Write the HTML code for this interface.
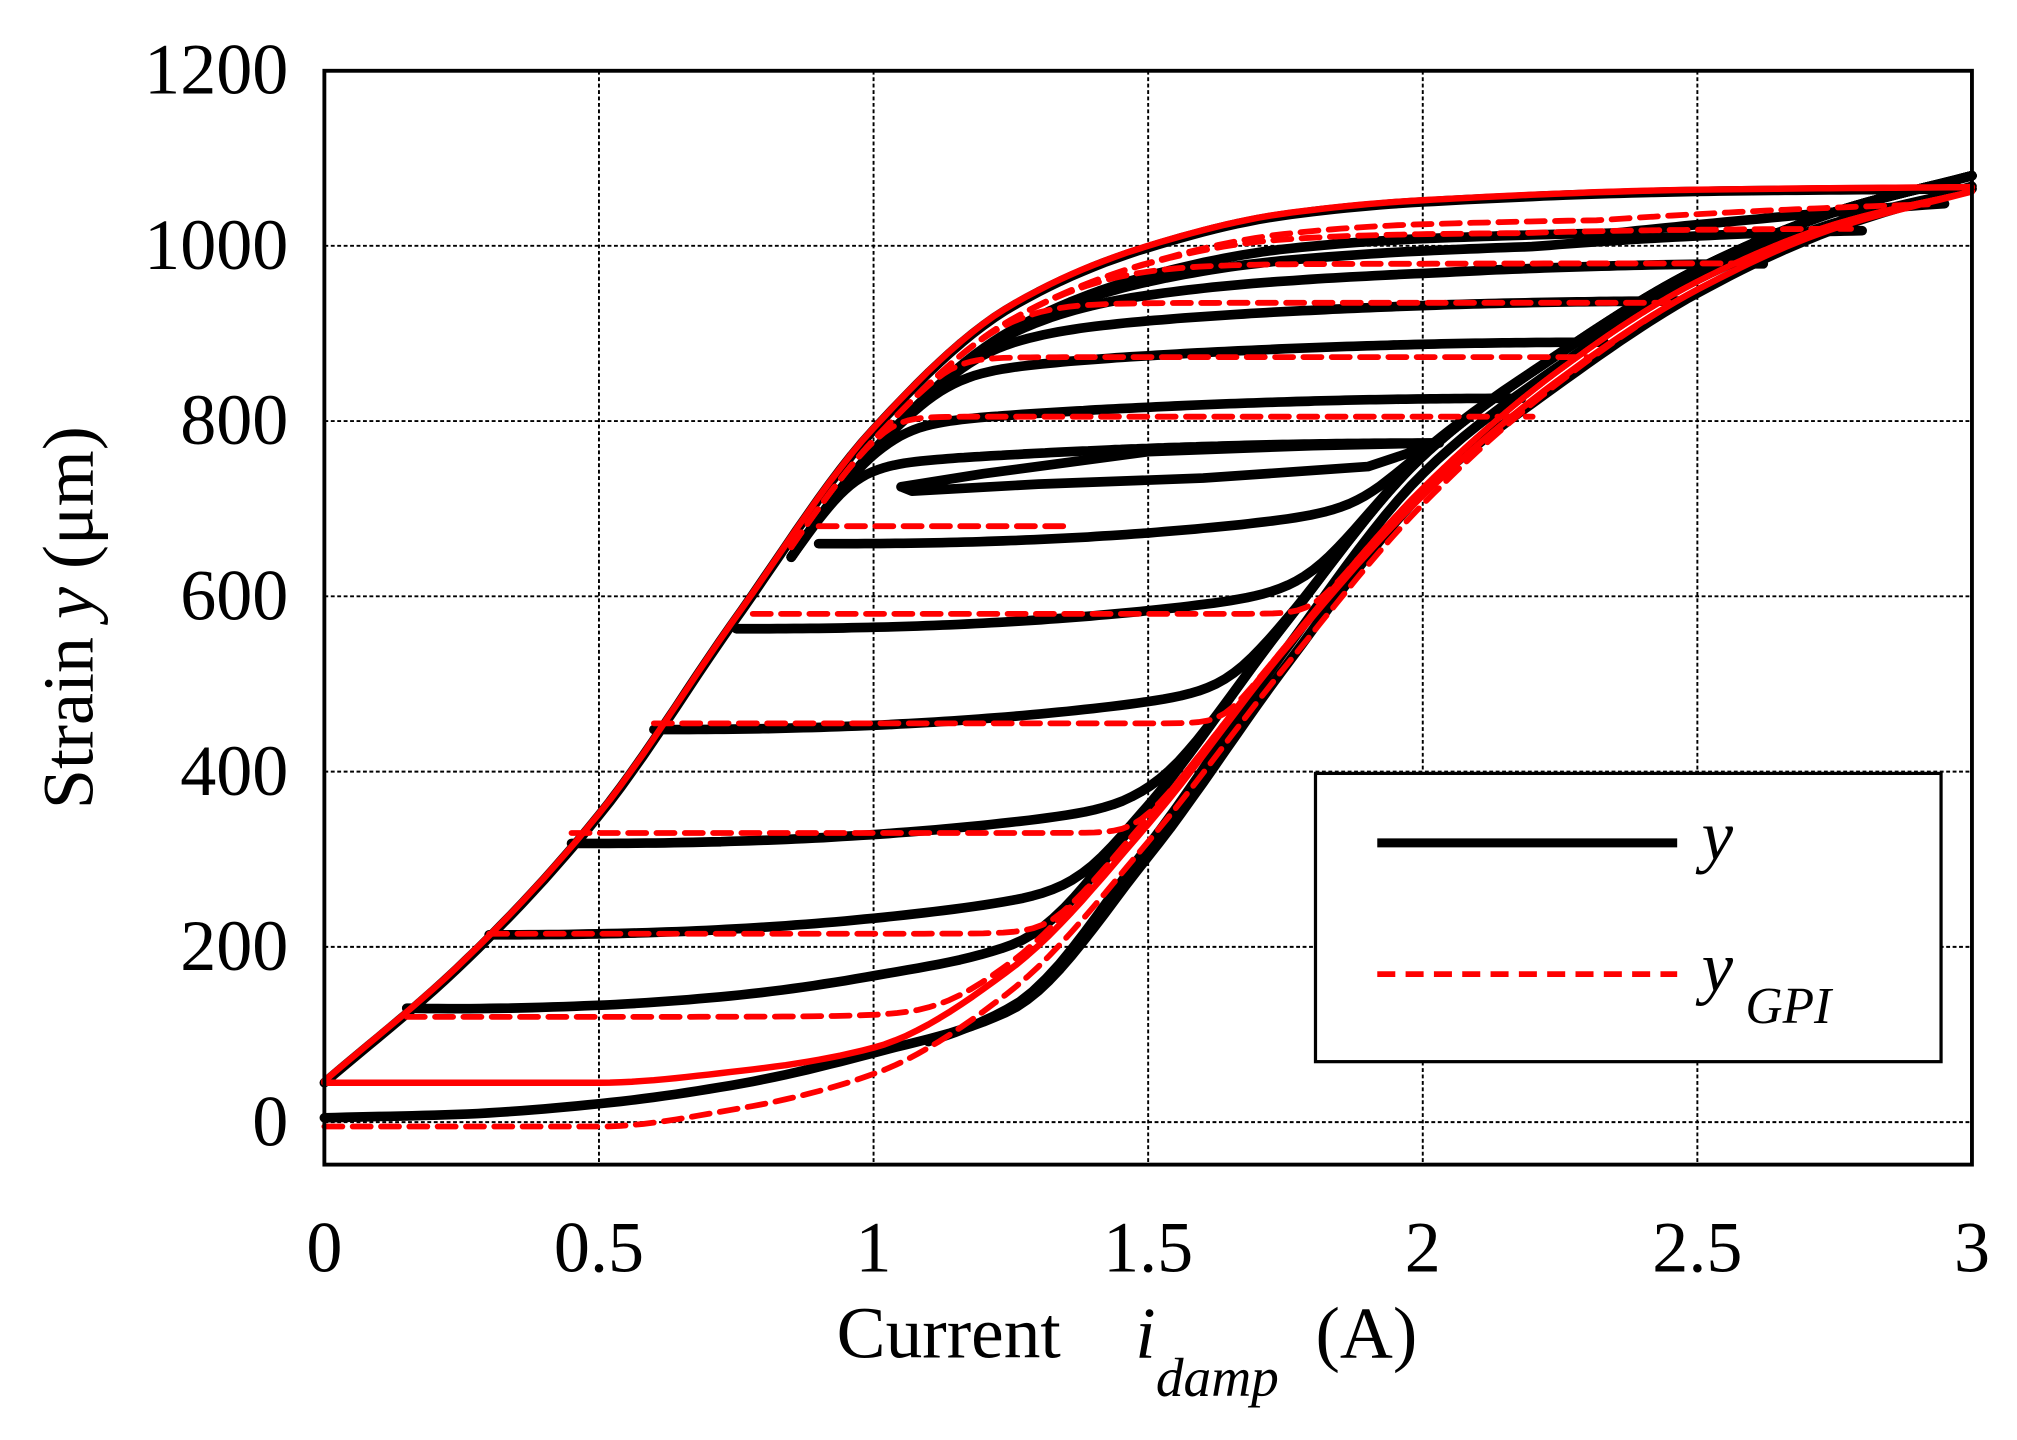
<!DOCTYPE html>
<html><head><meta charset="utf-8"><style>
html,body{margin:0;padding:0;background:#fff;}
svg{display:block;}
text{font-family:"Liberation Serif",serif;fill:#000;}
</style></head><body>
<svg id="s" width="2017" height="1440" viewBox="0 0 1567 1119" preserveAspectRatio="none" xmlns="http://www.w3.org/2000/svg">
<g id="grid" stroke="#000" stroke-width="1.5" stroke-dasharray="3,2"></g>
<g id="curves" fill="none" stroke-linejoin="round" stroke-linecap="round"></g>
<rect x="252" y="55" width="1280" height="850" fill="none" stroke="#000" stroke-width="3"/>
<g id="labels" font-size="56"></g>
<text x="650" y="1055" font-size="57">Current</text>
<text x="882" y="1055" font-size="57" font-style="italic">i</text>
<text x="898" y="1085" font-size="43" font-style="italic">damp</text>
<text x="1022" y="1055" font-size="57">(A)</text>
<text transform="translate(72,480) rotate(-90)" text-anchor="middle" font-size="56">Strain <tspan font-style="italic">y</tspan> (μm)</text>
<rect x="1022" y="601" width="486" height="224" fill="#fff" stroke="#000" stroke-width="2.5"/>
<line x1="1070" y1="655" x2="1303" y2="655" stroke="#000" stroke-width="7"/>
<line x1="1070" y1="757" x2="1303" y2="757" stroke="#f00" stroke-width="4.5" stroke-dasharray="14,8"/>
<text x="1322" y="668" font-size="55" font-style="italic">y</text>
<text x="1322" y="770" font-size="55" font-style="italic">y</text>
<text x="1356" y="795" font-size="40" font-style="italic">GPI</text>
</svg>
<script>
var NS="http://www.w3.org/2000/svg";
function X(i){return 252+i*426.67;}
function Y(v){return 872-v*0.681;}
function el(p,tag,a){var e=document.createElementNS(NS,tag);for(var k in a)e.setAttribute(k,a[k]);p.appendChild(e);return e;}
var g=document.getElementById('grid'),lb=document.getElementById('labels');
for(var i=0.5;i<3;i+=0.5)el(g,'line',{x1:X(i),y1:55,x2:X(i),y2:905});
for(var v=0;v<=1000;v+=200)el(g,'line',{x1:252,y1:Y(v),x2:1532,y2:Y(v)});
var xl=["0","0.5","1","1.5","2","2.5","3"];
for(var k=0;k<7;k++){var t=el(lb,'text',{x:X(k*0.5),y:988,'text-anchor':'middle'});t.textContent=xl[k];}
for(var v=0;v<=1200;v+=200){var t=el(lb,'text',{x:224,y:Y(v)+18,'text-anchor':'end'});t.textContent=v;}
function mk(pts){var n=pts.length,xs=pts.map(p=>p[0]),ys=pts.map(p=>p[1]),m=[];
 for(var i=0;i<n;i++){if(i==0)m[i]=(ys[1]-ys[0])/(xs[1]-xs[0]);else if(i==n-1)m[i]=(ys[n-1]-ys[n-2])/(xs[n-1]-xs[n-2]);else{var a=(ys[i]-ys[i-1])/(xs[i]-xs[i-1]),b=(ys[i+1]-ys[i])/(xs[i+1]-xs[i]);m[i]=(a*b<=0)?0:2/(1/a+1/b);}}
 return function(x){if(x<=xs[0])return ys[0];if(x>=xs[n-1])return ys[n-1];var j=1;while(x>xs[j])j++;var h=xs[j]-xs[j-1],t=(x-xs[j-1])/h,t2=t*t,t3=t2*t;
 return (2*t3-3*t2+1)*ys[j-1]+(t3-2*t2+t)*h*m[j-1]+(-2*t3+3*t2)*ys[j]+(t3-t2)*h*m[j];};}
var A=mk([[0,45],[0.25,180],[0.5,350],[0.75,575],[1,790],[1.25,930],[1.5,998],[1.75,1035],[2,1050],[2.5,1062],[3,1065]]);
var D=mk([[0,2],[0.25,6],[0.5,18],[0.75,40],[1,76],[1.25,125],[1.5,300],[1.75,517],[2,715],[2.25,840],[2.5,943],[2.75,1016],[3,1065]]);
var Rlow=mk([[0,-5],[0.5,-5],[0.75,15],[1,55],[1.25,150],[1.5,320],[1.75,520],[2,705],[2.25,845],[2.5,950],[2.75,1020],[3,1062]]);
var Rsol=mk([[0,45],[0.5,45],[0.75,58],[1,85],[1.25,175],[1.5,340],[1.75,540],[2,715],[2.25,848],[2.5,950],[2.75,1020],[3,1062]]);
function smax(a,b,k){var m=Math.max(a,b);return m+k*Math.log(Math.exp((a-m)/k)+Math.exp((b-m)/k));}
function smin(a,b,k){return -smax(-a,-b,k);}
var cv=document.getElementById('curves');
function path(pts,st){var d="";pts.forEach(function(p,i){d+=(i?"L":"M")+X(p[0]).toFixed(1)+" "+Y(p[1]).toFixed(1);});el(cv,'path',Object.assign({d:d},st));}
var BL={stroke:"#000","stroke-width":7.5},RD={stroke:"#f00","stroke-width":4.5,"stroke-dasharray":"14,8"},RS={stroke:"#f00","stroke-width":5};
function fn(f,a,b,n){var r=[];for(var k=0;k<=n;k++){var x=a+(b-a)*k/n;r.push([x,f(x)]);}return r;}
path(fn(A,0,3,150),BL);
path(fn(function(x){return D(x)+3;},0,3,150),BL);
path(fn(function(x){return D(x)+25*Math.sin(Math.PI*(x-1.1)/1.9);},1.1,3,80),BL);
[[0.15,113],[0.3,213],[0.45,318],[0.6,448],[0.75,563],[0.9,660]].forEach(function(o){
 path(fn(function(x){var off=90*(3-x)/3+15;var base=o[1]+40*Math.pow(x-o[0],2.3);return smax(base,D(x)+off,30);},o[0],3,150),BL);});
path([[1.05,725],[1.2,740],[1.5,765],[1.8,772],[2.03,775],[1.9,748],[1.6,735],[1.3,728],[1.07,720],[1.05,725]],BL);
[[2.95,1062],[2.8,1020],[2.62,980],[2.47,937],[2.33,890],[2.18,826],[2.03,775]].forEach(function(o){
 path(fn(function(x){var off=(40*x/3+10)*Math.min(1,(o[0]-x)/0.6);var base=o[1]-22*Math.pow(o[0]-x,2);return smin(base,A(x)-off,22);},0.85,o[0],120),BL);});
path(fn(function(x){return A(x)+2;},0,3,150),RS);
path(fn(Rlow,0,3,150),RD);
path(fn(Rsol,0,3,150),RS);
[[0.15,120],[0.3,215],[0.45,330],[0.6,455],[0.78,580]].forEach(function(o){
 path(fn(function(x){var off=55*(3-x)/3;return smax(o[1],Rlow(x)+off,16);},o[0],3,150),RD);});
path([[0.9,680],[1.35,680]],RD);
[[2.92,1052],[2.78,1020],[2.6,980],[2.45,935],[2.3,873],[2.2,805]].forEach(function(o){
 path(fn(function(x){var off=35*x/3*Math.min(1,(o[0]-x)/0.6);return smin(o[1],A(x)-off,14);},0.85,o[0],120),RD);});
</script>
</body></html>
